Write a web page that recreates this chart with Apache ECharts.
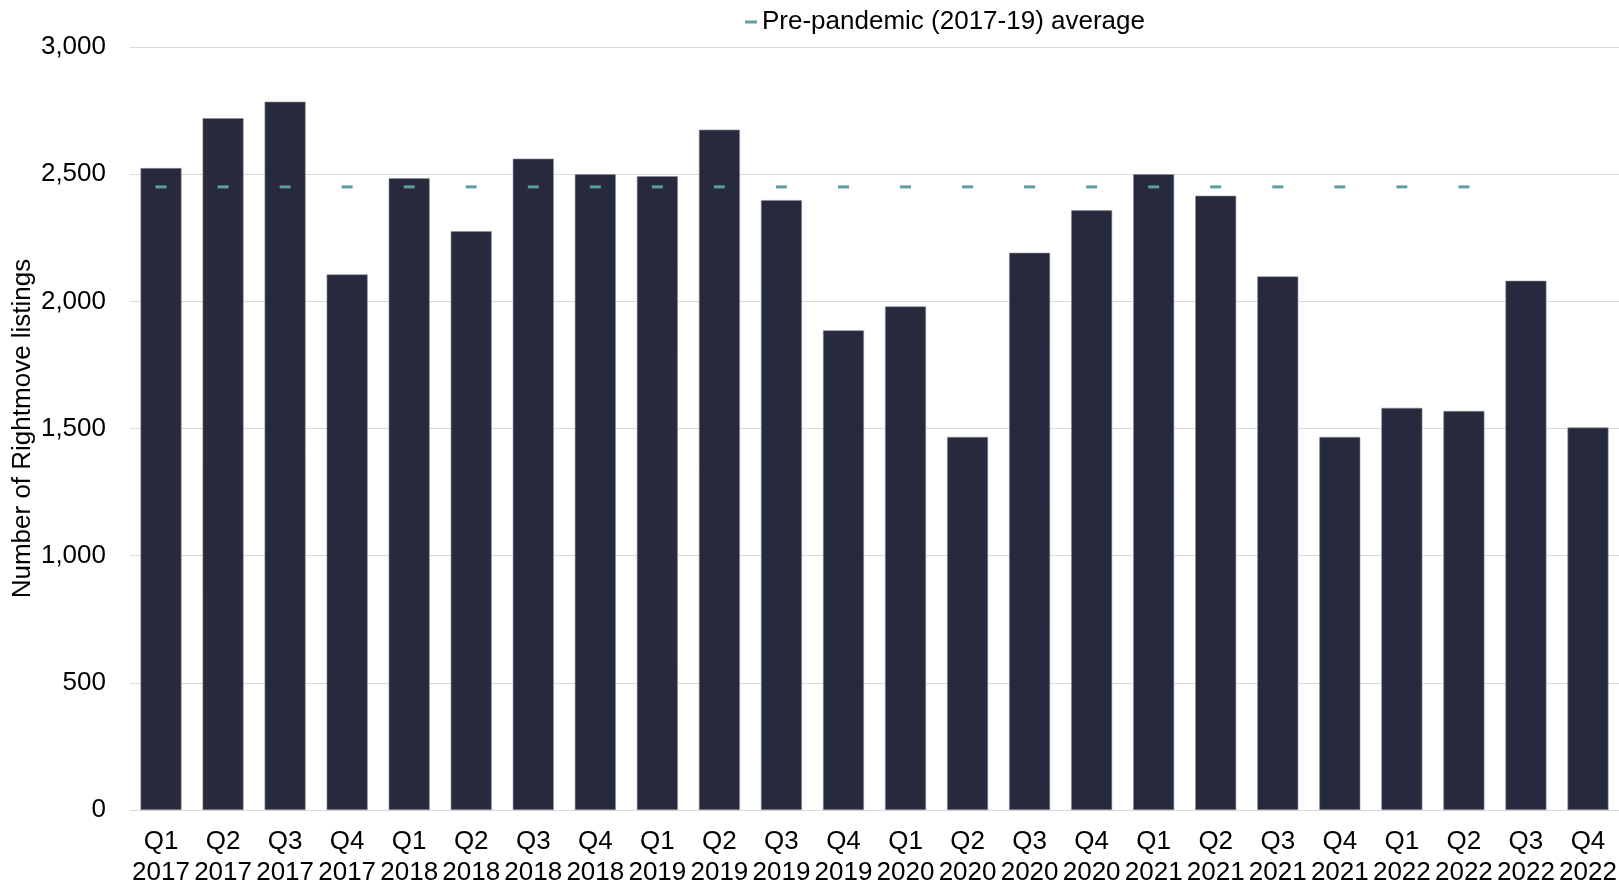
<!doctype html>
<meta charset="utf-8">
<title>Rightmove listings</title>
<style>
	html, body { margin: 0; padding: 0; background: #fff; }
	#chart { width: 1619px; height: 885px; }
</style>
<div id="chart"></div>
<script src="https://cdn.jsdelivr.net/npm/echarts@6/dist/echarts.min.js"></script>
<script>
	// quarters, x axis
	const quarters = ['Q1\n2017', 'Q2\n2017', 'Q3\n2017', 'Q4\n2017',
		'Q1\n2018', 'Q2\n2018', 'Q3\n2018', 'Q4\n2018',
		'Q1\n2019', 'Q2\n2019', 'Q3\n2019', 'Q4\n2019',
		'Q1\n2020', 'Q2\n2020', 'Q3\n2020', 'Q4\n2020',
		'Q1\n2021', 'Q2\n2021', 'Q3\n2021', 'Q4\n2021',
		'Q1\n2022', 'Q2\n2022', 'Q3\n2022', 'Q4\n2022'];
	// number of listings
	const listings = [2524, 2720, 2785, 2106, 2484, 2276, 2561, 2500, 2492, 2675, 2398, 1886,
		1980, 1467, 2191, 2358, 2500, 2415, 2098, 1467, 1581, 1569, 2081, 1504];
	// pre-pandemic average marker (no marker on last two quarters)
	const prePandemicAvg = [2450, 2450, 2450, 2450, 2450, 2450, 2450, 2450, 2450, 2450, 2450, 2450,
		2450, 2450, 2450, 2450, 2450, 2450, 2450, 2450, 2450, 2450, null, null];

	const FONT = 'Arial, "Liberation Sans", sans-serif';

	var chart = echarts.init(document.getElementById('chart'));
	chart.setOption({
		animation: false,
		textStyle: { fontFamily: FONT, color: '#000' },
		legend: {
			left: 740,
			top: 4,
			icon: 'rect',
			itemWidth: 12,
			itemHeight: 3,
			itemGap: 20,
			textStyle: { fontSize: 26, color: '#000', fontFamily: FONT },
			data: ['Pre-pandemic (2017-19) average']
		},
		grid: { left: 130, right: 0, top: 47, bottom: 75, containLabel: false, outerBoundsMode: 'none' },
		xAxis: {
			type: 'category',
			data: quarters,
			axisTick: { show: false },
			axisLine: { lineStyle: { color: '#d9d9d9', width: 1 } },
			axisLabel: { fontSize: 26, lineHeight: 31, color: '#000', margin: 16, interval: 0, fontFamily: FONT }
		},
		yAxis: {
			type: 'value',
			min: 0,
			max: 3000,
			interval: 500,
			name: 'Number of Rightmove listings',
			nameLocation: 'middle',
			nameGap: 94,
			nameMoveOverlap: false,
			nameTextStyle: { fontSize: 26, color: '#000', fontFamily: FONT },
			axisLine: { show: false },
			axisTick: { show: false },
			splitLine: { lineStyle: { color: '#d9d9d9', width: 1 } },
			axisLabel: {
				fontSize: 26, color: '#000', margin: 24, fontFamily: FONT,
				formatter: function (v) { return v.toLocaleString('en-GB'); }
			}
		},
		series: [
			{
				name: 'Listings',
				type: 'bar',
				data: listings,
				barWidth: 41,
				itemStyle: { color: '#262a3c', borderColor: '#8c8f9b', borderWidth: 0.6 }
			},
			{
				name: 'Pre-pandemic (2017-19) average',
				type: 'line',
				data: prePandemicAvg,
				lineStyle: { opacity: 0 },
				symbol: 'rect',
				symbolSize: [11, 3],
				showAllSymbol: true,
				itemStyle: { color: '#5f9ca3' },
				z: 5
			}
		]
	});
</script>
